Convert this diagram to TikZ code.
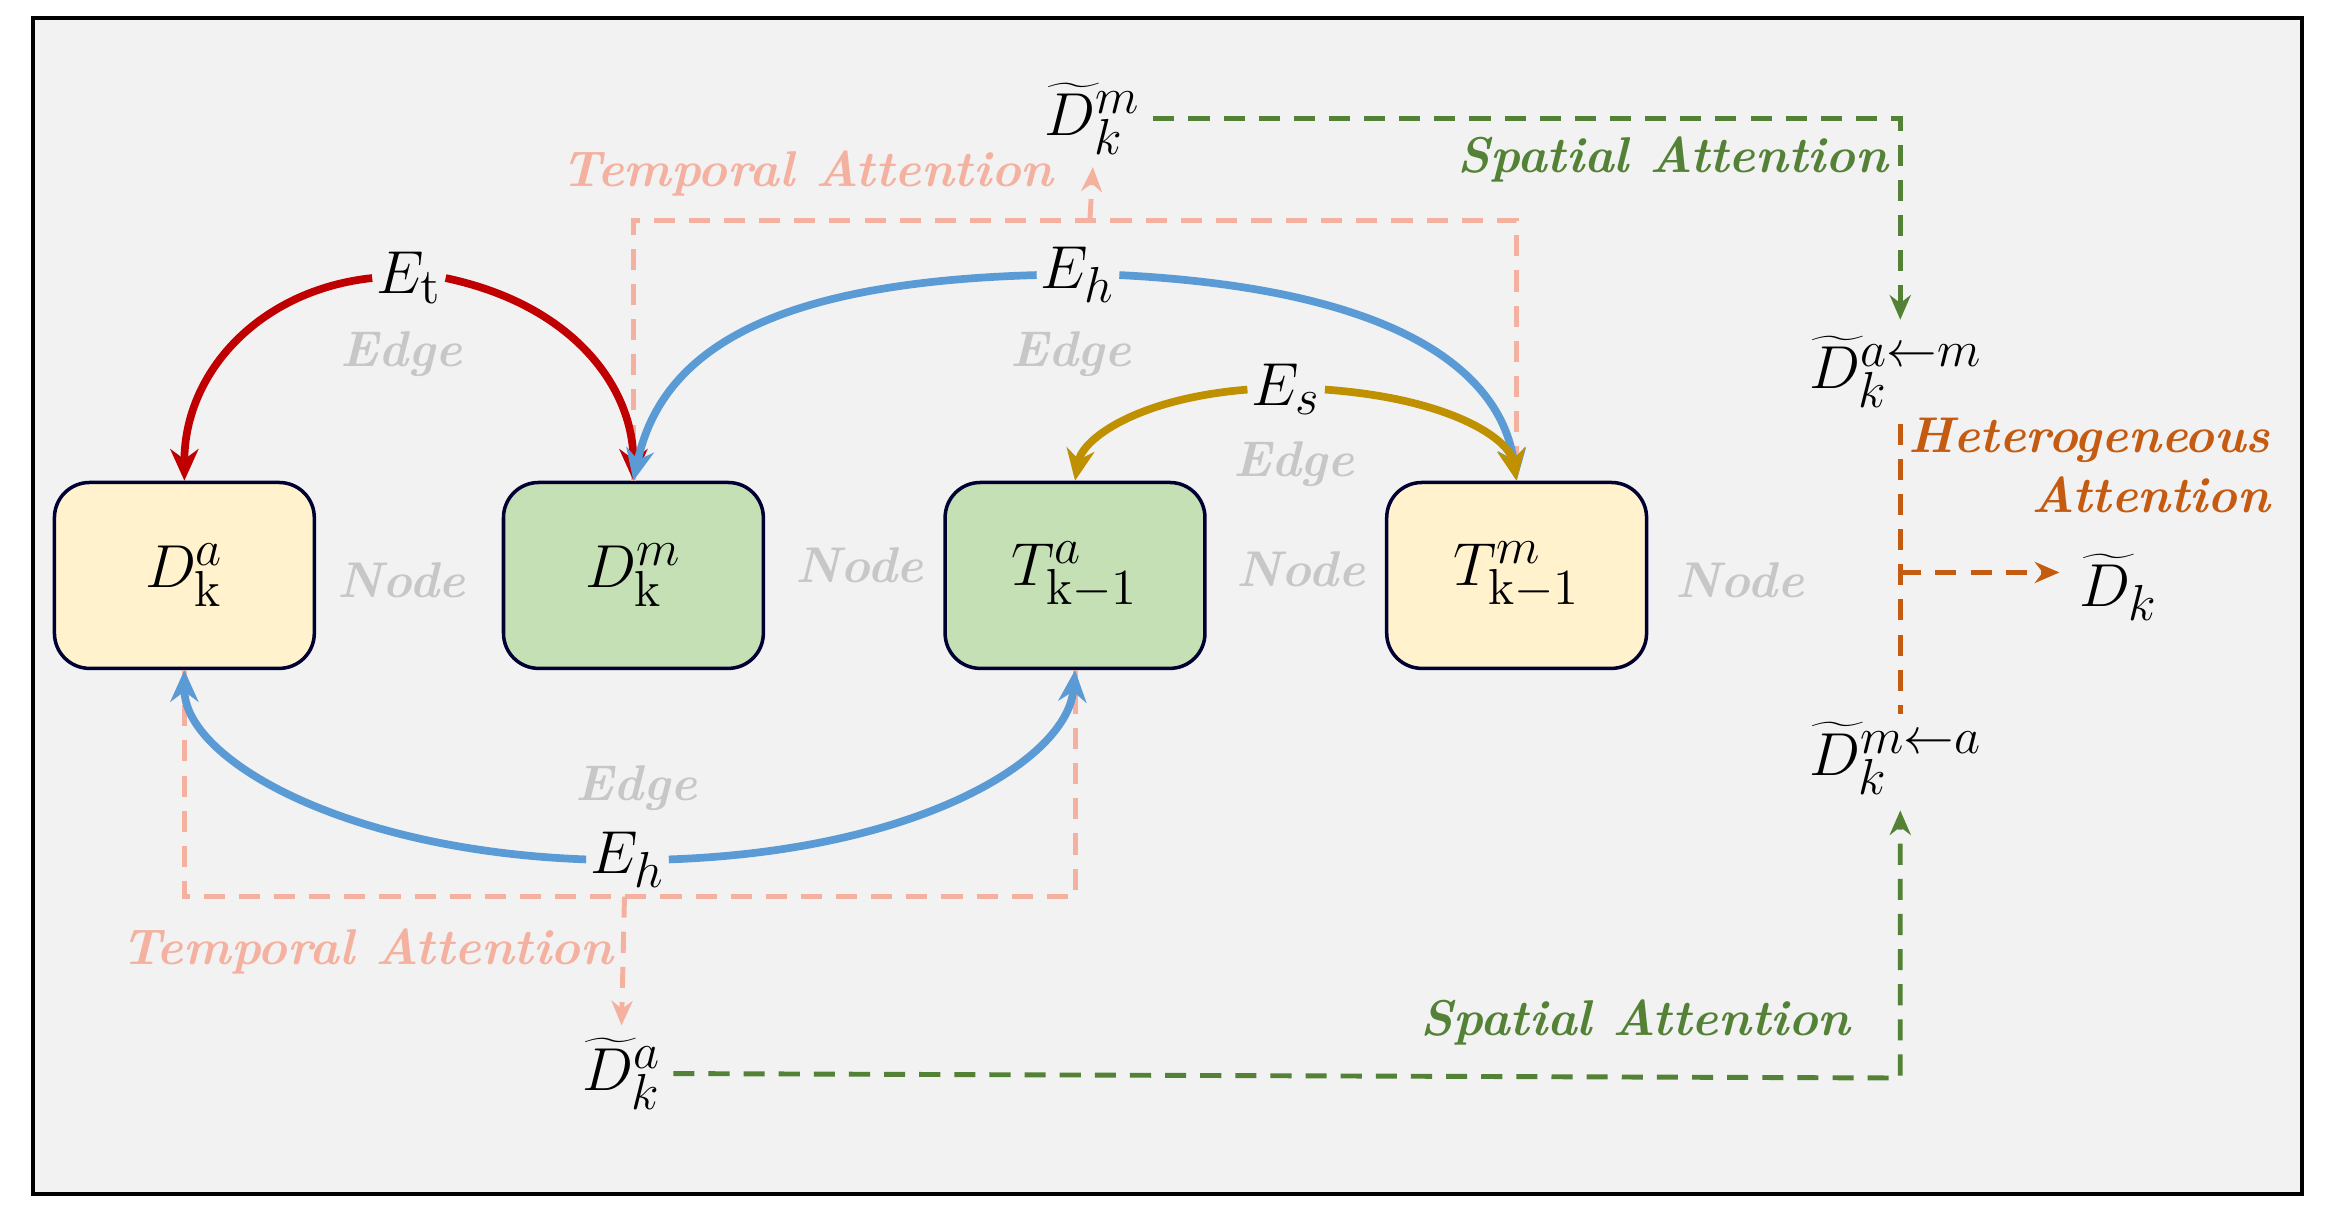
\documentclass[tikz,border=0pt]{standalone}
\usetikzlibrary{arrows.meta}
\begin{document}
\begin{tikzpicture}[x=0.01487cm,y=-0.01487cm,
 box/.style={draw=black!80!blue,line width=1pt,rounded corners=10pt,minimum width=2.6cm,minimum height=1.86cm,font=\fontsize{19}{22}\selectfont},
 lab/.style={font=\fontsize{14.3}{17}\selectfont\bfseries\itshape},
 gl/.style={lab,text=black!22},
 ml/.style={font=\fontsize{19}{22}\selectfont},
 arr/.style={line width=2.2pt,-{Stealth[length=9pt,width=8pt]}},
 dsh/.style={dashed,line width=1.4pt,dash pattern=on 6pt off 4pt},
 dar/.style={dsh,-{Stealth[length=7pt,width=6pt]}}]
\useasboundingbox (0,0) rectangle (1565,823);
\draw[fill=black!5,line width=1.2pt] (22,12) rectangle (1548,803);
\definecolor{yel}{HTML}{FFF2CC}\definecolor{grn}{HTML}{C5E0B4}
\definecolor{pk}{HTML}{F4B1A0}\definecolor{sg}{HTML}{538135}\definecolor{og}{HTML}{C55A11}
\definecolor{bl}{HTML}{5B9BD5}\definecolor{rd}{HTML}{C00000}\definecolor{gd}{HTML}{BF9000}
\node[box,fill=yel] (Da) at (124,387) {$D^{a}_{\mathrm{k}}$};
\node[box,fill=grn] (Dm) at (426,387) {$D^{m}_{\mathrm{k}}$};
\node[box,fill=grn] (Ta) at (723,387) {$T^{a}_{\mathrm{k-1}}$};
\node[box,fill=yel] (Tm) at (1020,387) {$T^{m}_{\mathrm{k-1}}$};
\node[gl] (n1) at (270,390) {Node};
\node[gl] (n2) at (578,380) {Node};
\node[gl] (n3) at (875,383) {Node};
\node[gl] (n4) at (1170,390) {Node};
\node[gl] (e1) at (270,238) {Edge};
\node[gl] (e2) at (720,238) {Edge};
\node[gl] (e3) at (870,312) {Edge};
\node[gl] (e4) at (428,530) {Edge};
% pink dashed
\draw[dsh,pk] (Dm.north) -- (426,148) -- (1020,148) -- (Tm.north);
\draw[dsh,pk] (Da.south) -- (124,603) -- (723,603) -- (Ta.south);
\node[ml] (Dmt) at (735,80) {$\widetilde{D}^{m}_{k}$};
\node[ml] (Dat) at (418,722) {$\widetilde{D}^{a}_{k}$};
\coordinate (p1) at (733,148); \coordinate (p2) at (420,603);
\draw[dar,pk] (p1) -- (Dmt.south);
\draw[dar,pk] (p2) -- (Dat.north);
\node[lab,text=pk] (t1) at (543,117) {Temporal Attention};
\node[lab,text=pk] (t2) at (247,640) {Temporal Attention};
% edges
\node[ml,inner sep=1pt] (Et) at (275,187) {$E_{\mathrm{t}}$};
\node[ml,inner sep=1pt] (Eh1) at (725,185) {$E_{h}$};
\node[ml,inner sep=1pt] (Es) at (865,262) {$E_{s}$};
\node[ml,inner sep=1pt] (Eh2) at (422,578) {$E_{h}$};
\draw[arr,rd] (Et.west) .. controls (175,195) and (124,250) .. (Da.north);
\draw[arr,rd] (Et.east) .. controls (385,205) and (426,260) .. (Dm.north);
\draw[arr,bl] (Eh1.west) .. controls (520,190) and (445,235) .. (Dm.north);
\draw[arr,bl] (Eh1.east) .. controls (950,195) and (1010,255) .. (Tm.north);
\draw[arr,gd] (Es.west) .. controls (765,268) and (728,295) .. (Ta.north);
\draw[arr,gd] (Es.east) .. controls (975,268) and (1015,295) .. (Tm.north);
\draw[arr,bl] (Eh2.west) .. controls (230,572) and (124,510) .. (Da.south);
\draw[arr,bl] (Eh2.east) .. controls (620,572) and (718,510) .. (Ta.south);
% spatial
\node[ml] (Dam) at (1275,250) {$\widetilde{D}^{a\leftarrow m}_{k}$};
\node[ml] (Dma) at (1275,510) {$\widetilde{D}^{m\leftarrow a}_{k}$};
\draw[dar,sg] (Dmt.east) -- (1278,80) -- (1278,215);
\draw[dar,sg] (Dat.east) -- (1278,725) -- (1278,545);
\node[lab,text=sg] (s1) at (1125,107) {Spatial Attention};
\node[lab,text=sg] (s2) at (1100,688) {Spatial Attention};
% heterogeneous
\coordinate (h1) at (1278,285); \coordinate (h2) at (1278,480); \coordinate (hm) at (1278,385);
\node[ml] (Dk) at (1425,395) {$\widetilde{D}_{k}$};
\draw[dsh,og] (h1) -- (h2);
\draw[dar,og] (hm) -- (1385,385);
\node[lab,text=og,align=right] (ha) at (1405,313) {Heterogeneous\\Attention};
\end{tikzpicture}
\end{document}
